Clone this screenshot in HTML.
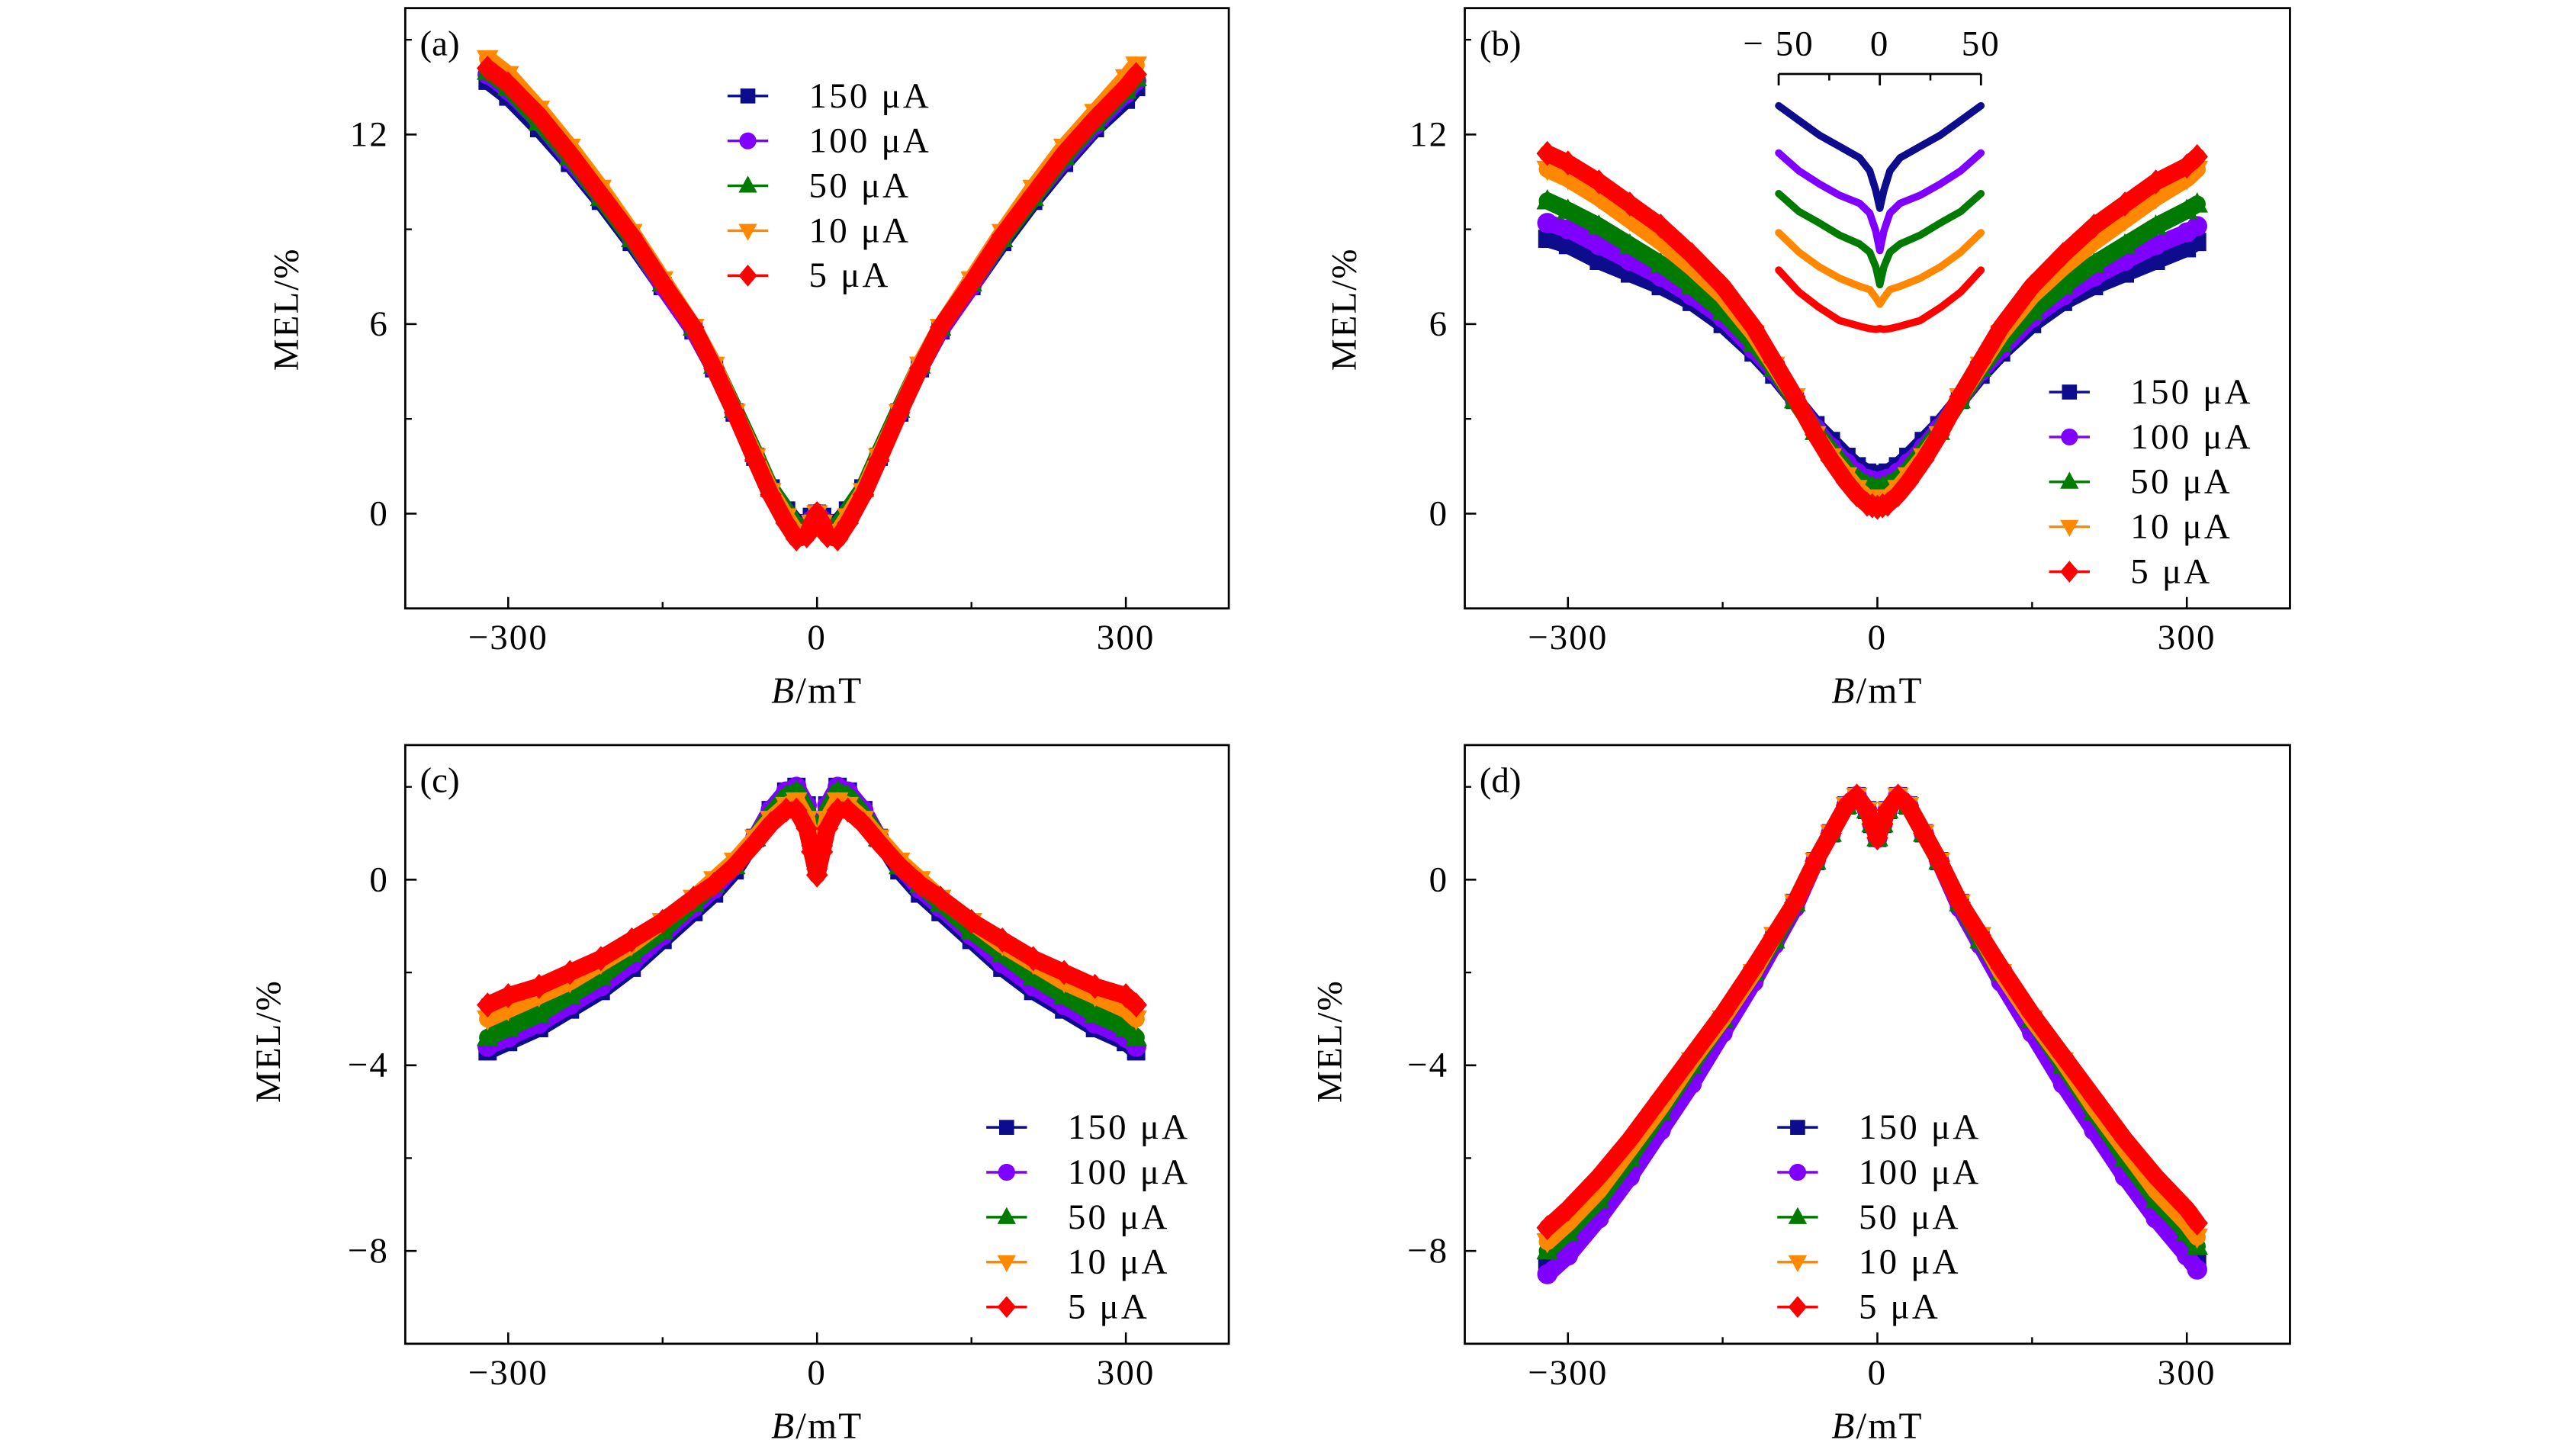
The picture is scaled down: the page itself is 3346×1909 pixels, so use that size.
<!DOCTYPE html>
<html><head><meta charset="utf-8"><style>
html,body{margin:0;padding:0;background:#fff;}
svg{display:block;font-family:"Liberation Serif",serif;}
</style></head><body>
<svg id="fig" width="3346" height="1909" viewBox="0 0 1568 895" preserveAspectRatio="none" xmlns="http://www.w3.org/2000/svg"></svg>
<script>
const B=[-320,-300,-270,-240,-210,-180,-150,-120,-100,-80,-60,-45,-30,-20,-10,-5,0,5,10,20,30,45,60,80,100,120,150,180,210,240,270,300,310];
const seriesNames=["150 μA","100 μA","50 μA","10 μA","5 μA"];
const xTicks=[-300,0,300];
const xTickLabels=["−300","0","300"];
const a150=[13.7,13.2,12.2,11.1,9.9,8.6,7.2,5.8,4.6,3.2,1.8,0.8,0.1,-0.3,-0.3,-0.1,0,-0.1,-0.3,-0.3,0.1,0.8,1.8,3.2,4.6,5.8,7.2,8.6,9.9,11.1,12.2,13.1,13.5];
const a100=[13.9,13.4,12.4,11.2,10.0,8.7,7.2,5.8,4.6,3.2,1.8,0.7,0,-0.4,-0.4,-0.2,0,-0.2,-0.4,-0.4,0,0.7,1.8,3.2,4.6,5.8,7.2,8.7,10.0,11.2,12.3,13.3,13.7];
const a50=[14.0,13.5,12.4,11.3,10.0,8.7,7.3,5.9,4.7,3.3,1.9,0.8,0.1,-0.4,-0.4,-0.2,0,-0.2,-0.4,-0.4,0.1,0.8,1.9,3.3,4.7,5.9,7.3,8.7,10.0,11.3,12.4,13.4,13.8];
const a10=[14.4,13.9,12.8,11.6,10.3,8.9,7.4,5.9,4.7,3.2,1.8,0.7,-0.1,-0.6,-0.6,-0.3,0,-0.3,-0.6,-0.6,-0.1,0.7,1.8,3.2,4.7,5.9,7.4,8.9,10.3,11.6,12.7,13.8,14.2];
const a5=[14.1,13.6,12.6,11.4,10.1,8.8,7.3,5.9,4.6,3.2,1.7,0.6,-0.3,-0.8,-0.7,-0.3,0,-0.3,-0.7,-0.8,-0.3,0.6,1.7,3.2,4.6,5.9,7.3,8.8,10.1,11.4,12.5,13.5,13.9];
const b150=[8.7,8.5,8.0,7.6,7.2,6.7,6.0,5.1,4.4,3.6,2.8,2.3,1.8,1.5,1.3,1.25,1.2,1.25,1.3,1.5,1.8,2.3,2.8,3.6,4.4,5.1,6.0,6.7,7.2,7.6,8.0,8.4,8.6];
const b100=[9.2,9.0,8.5,8.0,7.5,6.9,6.2,5.2,4.5,3.6,2.7,2.1,1.6,1.3,1.1,1.05,1.0,1.05,1.1,1.3,1.6,2.1,2.7,3.6,4.5,5.2,6.2,6.9,7.5,8.0,8.5,8.9,9.1];
const b50=[9.9,9.6,9.1,8.5,7.9,7.2,6.4,5.4,4.6,3.6,2.6,2.0,1.4,1.1,0.9,0.85,0.8,0.85,0.9,1.1,1.4,2.0,2.6,3.6,4.6,5.4,6.4,7.2,7.9,8.5,9.1,9.6,9.8];
const b10=[10.9,10.6,10.0,9.3,8.6,7.8,6.9,5.7,4.7,3.7,2.5,1.8,1.2,0.8,0.5,0.45,0.4,0.45,0.5,0.8,1.2,1.8,2.5,3.7,4.7,5.7,6.9,7.8,8.6,9.3,10.0,10.6,10.9];
const b5=[11.4,11.1,10.5,9.8,9.1,8.2,7.2,5.9,4.8,3.7,2.5,1.7,1.0,0.6,0.3,0.25,0.2,0.25,0.3,0.6,1.0,1.7,2.5,3.7,4.8,5.9,7.2,8.2,9.1,9.8,10.5,11.0,11.3];
const c150=[-3.7,-3.5,-3.2,-2.8,-2.4,-1.9,-1.3,-0.7,-0.3,0.2,0.9,1.5,1.9,2.0,1.6,1.0,0.5,1.0,1.6,2.0,1.9,1.5,0.9,0.2,-0.3,-0.7,-1.3,-1.9,-2.4,-2.8,-3.2,-3.5,-3.7];
const c100=[-3.6,-3.4,-3.1,-2.7,-2.3,-1.8,-1.2,-0.6,-0.2,0.3,0.9,1.5,1.9,2.0,1.6,1.0,0.5,1.0,1.6,2.0,1.9,1.5,0.9,0.3,-0.2,-0.6,-1.2,-1.8,-2.3,-2.7,-3.1,-3.4,-3.6];
const c50=[-3.4,-3.2,-2.9,-2.5,-2.1,-1.6,-1.1,-0.5,-0.1,0.3,0.9,1.4,1.8,1.9,1.5,0.9,0.4,0.9,1.5,1.9,1.8,1.4,0.9,0.3,-0.1,-0.5,-1.1,-1.6,-2.1,-2.5,-2.9,-3.2,-3.4];
const c10=[-3.0,-2.8,-2.5,-2.2,-1.8,-1.4,-0.9,-0.4,0,0.4,0.9,1.3,1.6,1.7,1.3,0.8,0.3,0.8,1.3,1.7,1.6,1.3,0.9,0.4,0,-0.4,-0.9,-1.4,-1.8,-2.2,-2.5,-2.8,-3.0];
const c5=[-2.7,-2.5,-2.3,-2.0,-1.7,-1.3,-0.9,-0.4,-0.1,0.3,0.8,1.2,1.5,1.5,1.1,0.6,0.1,0.6,1.1,1.5,1.5,1.2,0.8,0.3,-0.1,-0.4,-0.9,-1.3,-1.7,-2.0,-2.3,-2.5,-2.7];
const d150=[-8.3,-7.9,-7.1,-6.2,-5.2,-4.2,-3.2,-2.1,-1.3,-0.5,0.4,1.0,1.6,1.8,1.5,1.2,0.9,1.2,1.5,1.8,1.6,1.0,0.4,-0.5,-1.3,-2.1,-3.2,-4.2,-5.2,-6.2,-7.1,-7.9,-8.2];
const d100=[-8.5,-8.1,-7.3,-6.4,-5.4,-4.4,-3.3,-2.2,-1.4,-0.6,0.4,1.0,1.6,1.8,1.5,1.2,0.9,1.2,1.5,1.8,1.6,1.0,0.4,-0.6,-1.4,-2.2,-3.3,-4.4,-5.4,-6.4,-7.3,-8.1,-8.4];
const d50=[-8.0,-7.6,-6.9,-6.0,-5.0,-4.0,-3.0,-2.0,-1.3,-0.5,0.4,1.0,1.6,1.8,1.5,1.2,0.9,1.2,1.5,1.8,1.6,1.0,0.4,-0.5,-1.3,-2.0,-3.0,-4.0,-5.0,-6.0,-6.9,-7.6,-7.9];
const d10=[-7.8,-7.4,-6.7,-5.8,-4.9,-3.9,-3.0,-2.0,-1.2,-0.5,0.4,1.0,1.6,1.8,1.5,1.2,0.9,1.2,1.5,1.8,1.6,1.0,0.4,-0.5,-1.2,-2.0,-3.0,-3.9,-4.9,-5.8,-6.7,-7.4,-7.7];
const d5=[-7.5,-7.1,-6.4,-5.6,-4.7,-3.8,-2.9,-1.9,-1.2,-0.5,0.4,1.0,1.6,1.8,1.5,1.2,0.9,1.2,1.5,1.8,1.6,1.0,0.4,-0.5,-1.2,-1.9,-2.9,-3.8,-4.7,-5.6,-6.4,-7.1,-7.4];
const insetB=[-50,-40,-30,-20,-10,-5,-2,0,2,5,10,20,30,40,50];
const in150=[15.0,14.1,13.2,12.5,11.8,11.0,9.8,8.7,9.8,11.0,11.8,12.5,13.2,14.1,15.0];
const in100=[12.1,11.0,10.2,9.5,9.0,8.4,7.3,6.1,7.3,8.4,9.0,9.5,10.2,11.0,12.1];
const in50=[9.6,8.5,7.8,7.05,6.5,6.0,5.1,4.0,5.1,6.0,6.5,7.05,7.8,8.5,9.6];
const in10=[7.2,6.0,5.1,4.4,3.9,3.7,3.2,2.8,3.2,3.7,3.9,4.4,5.1,6.0,7.2];
const in5=[4.9,3.55,2.6,1.8,1.45,1.3,1.25,1.3,1.25,1.3,1.45,1.8,2.6,3.55,4.9];

const colors=["#0c0c8c","#7f00ff","#007a00","#ff8800","#ff0000"];
const shapes=["square","circle","up","down","diamond"];
const NS="http://www.w3.org/2000/svg";
const svg=document.getElementById("fig");
const FS=22;
function mk(tag,attrs,parent){const e=document.createElementNS(NS,tag);for(const k in attrs)e.setAttribute(k,attrs[k]);(parent||svg).appendChild(e);return e;}
function marker(shape,x,y,c,g,s){
  s=s||6;let e;
  if(shape==="square")e=mk("rect",{x:x-s+0.6,y:y-s+0.6,width:2*s-1.2,height:2*s-1.2,fill:c},g);
  else if(shape==="circle")e=mk("circle",{cx:x,cy:y,r:s,fill:c},g);
  else if(shape==="up")e=mk("polygon",{points:`${x},${y-s-1} ${x-s-0.5},${y+s-1} ${x+s+0.5},${y+s-1}`,fill:c},g);
  else if(shape==="down")e=mk("polygon",{points:`${x},${y+s+1} ${x-s-0.5},${y-s+1} ${x+s+0.5},${y-s+1}`,fill:c},g);
  else e=mk("polygon",{points:`${x},${y-s-1.5} ${x+s+0.5},${y} ${x},${y+s+1.5} ${x-s-0.5},${y}`,fill:c},g);
  return e;
}
const panels=[
 {id:"a",x0:249,y0:5,w:506,h:369,ymin:-3,ymax:16,yt:[0,6,12],ytl:["0","6","12"],ym:[-3,3,9,15],data:[a150,a100,a50,a10,a5],leg:{x:447,y:59},ylx:183,yly:190},
 {id:"b",x0:900,y0:5,w:507,h:369,ymin:-3,ymax:16,yt:[0,6,12],ytl:["0","6","12"],ym:[-3,3,9,15],data:[b150,b100,b50,b10,b5],leg:{x:1259,y:241},ylx:833,yly:190},
 {id:"c",x0:249,y0:458,w:506,h:368,ymin:-10,ymax:2.9,yt:[-8,-4,0],ytl:["−8","−4","0"],ym:[-10,-6,-2,2],data:[c150,c100,c50,c10,c5],leg:{x:606,y:693},ylx:172,yly:640},
 {id:"d",x0:900,y0:458,w:507,h:368,ymin:-10,ymax:2.9,yt:[-8,-4,0],ytl:["−8","−4","0"],ym:[-10,-6,-2,2],data:[d150,d100,d50,d10,d5],leg:{x:1092,y:693},ylx:824,yly:640}
];
panels.forEach(p=>{
  const g=mk("g",{});
  
  
  const sx=b=>p.x0+(b+400)/800*p.w;
  const sy=v=>p.y0+(p.ymax-v)/(p.ymax-p.ymin)*p.h;
  const clipId="clip"+p.id;
  const cp=mk("clipPath",{id:clipId},g);mk("rect",{x:p.x0,y:p.y0,width:p.w,height:p.h},cp);
  const plot=mk("g",{"clip-path":`url(#${clipId})`},g);
  
  
  p.data.forEach((arr,si)=>{
    const sg=mk("g",{},plot);
    
    
    const pts=arr.map((v,i)=>sx(B[i]).toFixed(2)+","+sy(v).toFixed(2)).join(" ");
    const pl=mk("polyline",{points:pts,fill:"none",stroke:colors[si],"stroke-width":10.5,"stroke-linejoin":"round","stroke-linecap":"round"},sg);
    
    
    arr.forEach((v,i)=>{const m=marker(shapes[si],sx(B[i]),sy(v),colors[si],sg,6.2);
      
      });
  });
  const fr=mk("rect",{x:p.x0,y:p.y0,width:p.w,height:p.h,fill:"none",stroke:"#000","stroke-width":1.3},g);
  
  
  const yb=p.y0+p.h;
  xTicks.forEach((t,i)=>{
    mk("line",{x1:sx(t),x2:sx(t),y1:yb,y2:yb-7,stroke:"#000","stroke-width":1.2},g);
    const tx=mk("text",{x:sx(t),y:yb+25,"text-anchor":"middle","font-size":FS,"letter-spacing":1},g);tx.textContent=xTickLabels[i];
    
    
  });
  [-150,150].forEach(t=>mk("line",{x1:sx(t),x2:sx(t),y1:yb,y2:yb-4,stroke:"#000","stroke-width":1.1},g));
  p.yt.forEach((t,i)=>{
    mk("line",{x1:p.x0,x2:p.x0+7,y1:sy(t),y2:sy(t),stroke:"#000","stroke-width":1.2},g);
    const tx=mk("text",{x:p.x0-10,y:sy(t)+7,"text-anchor":"end","font-size":FS,"letter-spacing":1},g);tx.textContent=p.ytl[i];
    
    
  });
  p.ym.forEach(t=>{if(t>p.ymin&&t<p.ymax)mk("line",{x1:p.x0,x2:p.x0+4,y1:sy(t),y2:sy(t),stroke:"#000","stroke-width":1.1},g);});
  const xl=mk("text",{x:p.x0+p.w/2,y:yb+58,"text-anchor":"middle","font-size":FS+1,"letter-spacing":1},g);
  xl.innerHTML='<tspan font-style="italic">B</tspan>/mT';
  
  
  const yl=mk("text",{x:p.ylx,y:p.yly,"text-anchor":"middle","font-size":FS,"letter-spacing":1,transform:`rotate(-90 ${p.ylx} ${p.yly})`},g);
  yl.textContent="MEL/%";
  
  
  const lb=mk("text",{x:p.x0+9,y:p.y0+29,"font-size":FS},g);lb.textContent="("+p.id+")";
  
  
  const lg=mk("g",{},g);
  
  
  seriesNames.forEach((n,si)=>{
    const ly=p.leg.y+si*27.6;
    const le=mk("g",{},lg);
    
    
    mk("line",{x1:p.leg.x,x2:p.leg.x+25,y1:ly,y2:ly,stroke:colors[si],"stroke-width":1.6},le);
    marker(shapes[si],p.leg.x+12.5,ly,colors[si],le,5.2);
    const t=mk("text",{x:p.leg.x+50,y:ly+7,"font-size":FS,"letter-spacing":1.5},le);t.textContent=n;
  });
  if(p.id==="b"){
    const ig=mk("g",{},g);
    
    
    const ix=b=>1155+b*1.243;
    const iy=v=>215-v*10;
    const ay=45.5;
    mk("line",{x1:ix(-50),x2:ix(50),y1:ay,y2:ay,stroke:"#000","stroke-width":1.3},ig);
    [-50,0,50].forEach(t=>{mk("line",{x1:ix(t),x2:ix(t),y1:ay,y2:ay+7,stroke:"#000","stroke-width":1.3},ig);
      const tx=mk("text",{x:ix(t),y:34,"text-anchor":"middle","font-size":FS,"letter-spacing":1},ig);tx.textContent=(t<0?"− ":"")+Math.abs(t);
      
      });
    [-25,25].forEach(t=>mk("line",{x1:ix(t),x2:ix(t),y1:ay,y2:ay+4,stroke:"#000","stroke-width":1.2},ig));
    [in150,in100,in50,in10,in5].forEach((arr,si)=>{
      const pl=mk("polyline",{points:arr.map((v,i)=>ix(insetB[i]).toFixed(2)+","+iy(v).toFixed(2)).join(" "),fill:"none",stroke:colors[si],"stroke-width":4.5,"stroke-linejoin":"round","stroke-linecap":"round"},ig);
      
      
    });
  }
});
</script>
</body></html>
